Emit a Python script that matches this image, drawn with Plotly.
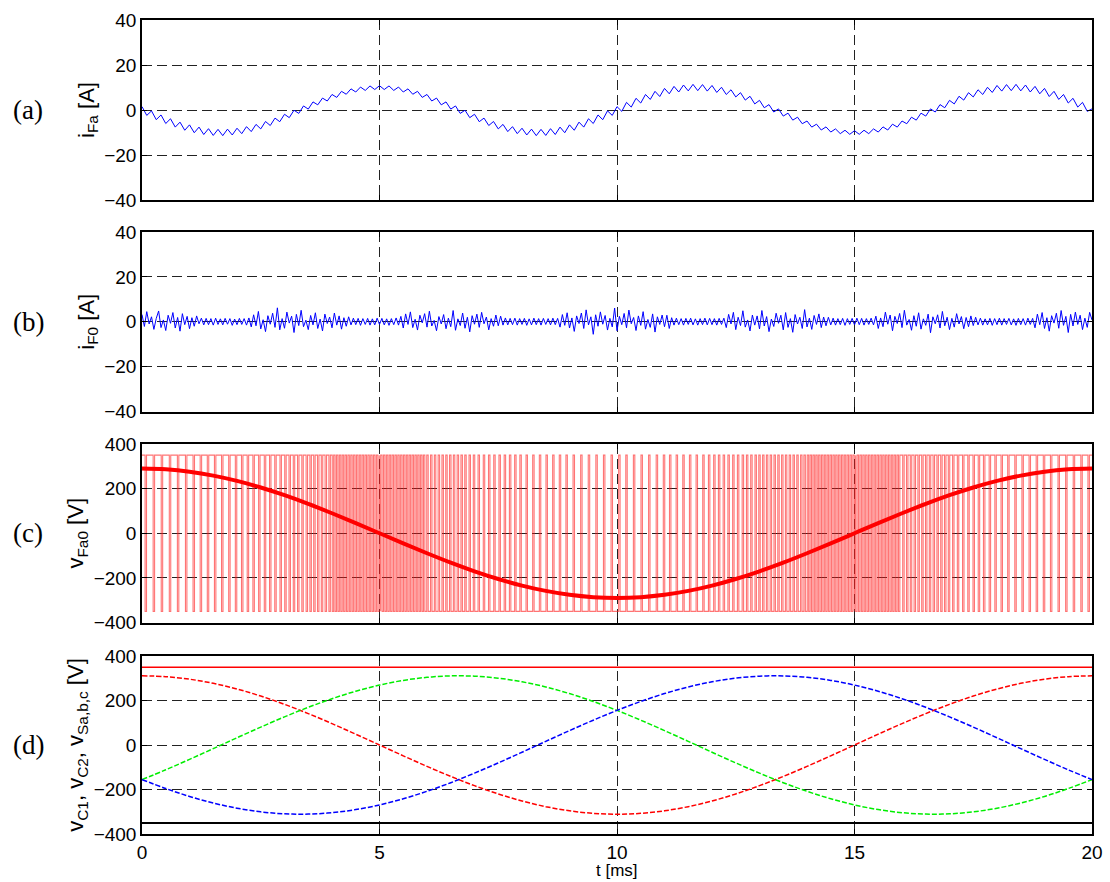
import numpy as np
import plotly.graph_objects as go
from plotly.subplots import make_subplots

# ---------------- data ----------------
# (a) filter phase-a current [A], sampled every 0.1 ms from 0 to 20 ms
iFa = [1.5, -2.4, -0.4, -4.3, -2.2, -6.0, -3.9, -7.6, -5.4, -9.0,
       -6.6, -10.1, -7.6, -10.9, -8.3, -11.3, -8.6, -11.4, -8.5, -11.1,
       -8.1, -10.5, -7.4, -9.6, -6.4, -8.4, -5.1, -6.9, -3.6, -5.2,
       -1.9, -3.4, -0.1, -1.5, 1.8, 0.4, 3.6, 2.3, 5.3, 4.0,
       6.9, 5.6, 8.3, 7.0, 9.4, 8.0, 10.2, 8.7, 10.7, 9.1,
       10.8, 9.1, 10.7, 8.7, 10.2, 8.0, 9.4, 7.0, 8.3, 5.6,
       6.9, 4.0, 5.3, 2.3, 3.6, 0.4, 1.8, -1.5, -0.1, -3.4,
       -1.9, -5.2, -3.6, -6.9, -5.1, -8.4, -6.4, -9.6, -7.4, -10.5,
       -8.1, -11.1, -8.5, -11.4, -8.6, -11.3, -8.3, -10.9, -7.6, -10.1,
       -6.6, -9.0, -5.4, -7.6, -3.9, -6.0, -2.2, -4.3, -0.4, -2.4,
       1.5, -0.6, 3.4, 1.3, 5.2, 3.1, 6.9, 4.7, 8.3, 6.0,
       9.6, 7.2, 10.5, 8.0, 11.1, 8.5, 11.4, 8.6, 11.3, 8.4,
       10.9, 7.8, 10.1, 6.9, 9.0, 5.8, 7.7, 4.4, 6.1, 2.7,
       4.3, 1.0, 2.4, -0.9, 0.5, -2.7, -1.4, -4.5, -3.2, -6.1,
       -4.9, -7.6, -6.3, -8.9, -7.5, -9.8, -8.4, -10.5, -9.0, -10.8,
       -9.2, -10.8, -9.0, -10.5, -8.4, -9.8, -7.5, -8.9, -6.3, -7.6,
       -4.9, -6.1, -3.2, -4.5, -1.4, -2.7, 0.5, -0.9, 2.4, 1.0,
       4.3, 2.7, 6.1, 4.4, 7.7, 5.8, 9.0, 6.9, 10.1, 7.8,
       10.9, 8.4, 11.3, 8.6, 11.4, 8.5, 11.1, 8.0, 10.5, 7.2,
       9.6, 6.0, 8.3, 4.7, 6.9, 3.1, 5.2, 1.3, 3.4, -0.6,
       0.5]

# (b) zero-sequence filter current [A], sampled every 0.05 ms
iF0 = [3.2, -2.1, 4.5, -1.0, 2.2, -3.4, 1.5, 4.8, -2.6, 0.8, -3.9, 2.9, -0.7, 4.1, -2.8, 1.9, -4.2, 3.6, -1.3, 2.4,
       -3.1, 1.8, -2.0, 2.6, -0.9, 1.6, -1.4, 1.5, -1.3, 1.4, -1.5, 1.6, -1.2, 1.3, -1.4, 1.5, -1.1, 1.4, -1.6, 1.2,
       -1.3, 1.5, -1.2, 1.4, -1.5, 1.7, -2.3, 3.1, -1.8, 4.6, -3.2, 0.9, -4.4, 2.7, -1.1, 3.8, -2.5, 6.2, -3.6, 1.4,
       -2.9, 4.3, -0.6, 2.5, -4.8, 3.3, -1.7, 5.1, -2.2, 0.7, -3.5, 2.8, -1.4, 4.0, -3.0, 1.2, -4.1, 3.4, -0.8, 2.1,
       -2.7, 3.9, -1.5, 2.6, -3.3, 1.8, -2.0, 2.2, -1.4, 1.6, -1.3, 1.5, -1.6, 1.4, -1.2, 1.5, -1.5, 1.3, -1.4, 1.6,
       -1.2, 1.5, -1.4, 1.3, -1.6, 1.4, -1.3, 1.7, -1.5, 2.4, -2.8, 3.5, -1.2, 4.4, -2.6, 1.1, -3.7, 2.9, -0.5, 3.6,
       -2.4, 4.7, -1.9, 0.6, -4.0, 2.3, -1.0, 3.2, -3.1, 1.6, -2.2, 5.0, -3.8, 1.3, -1.7, 3.9, -2.9, 2.0, -4.5, 2.7,
       -1.1, 3.4, -2.5, 4.2, -0.9, 2.1, -3.6, 1.4, -2.0, 3.0, -1.8, 2.5, -1.5, 1.7, -1.4, 1.5, -1.3, 1.6, -1.5, 1.4,
       -1.2, 1.5, -1.6, 1.3, -1.4, 1.6, -1.3, 1.4, -1.5, 1.5, -1.2, 1.4, -1.4, 1.6, -1.3, 1.5, -2.4, 3.2, -1.6, 4.0,
       -2.8, 1.7, -4.3, 2.6, -0.8, 3.9, -3.0, 5.3, -1.4, 2.2, -5.6, 3.1, -2.0, 4.4, -1.1, 2.8, -3.7, 1.5, -2.3, 6.1,
       -4.0, 2.4, -1.3, 3.7, -2.7, 5.2, -0.9, 1.9, -3.9, 2.6, -1.6, 4.5, -3.3, 1.0, -2.5, 3.5, -4.6, 2.2, -1.2, 3.0,
       -2.2, 2.9, -3.0, 1.8, -1.5, 1.6, -1.3, 1.4, -1.5, 1.5, -1.2, 1.6, -1.4, 1.3, -1.5, 1.4, -1.3, 1.6, -1.4, 1.5,
       -1.3, 1.4, -1.5, 1.5, -1.2, 1.6, -2.6, 3.3, -1.0, 4.2, -3.5, 2.0, -1.7, 4.9, -2.4, 0.8, -4.1, 3.0, -1.5, 2.6,
       -3.2, 5.0, -1.9, 2.3, -4.4, 1.2, -2.1, 3.8, -0.7, 2.9, -3.6, 4.1, -2.5, 1.4, -4.7, 3.2, -1.0, 2.0, -3.0, 5.4,
       -2.3, 1.6, -3.4, 2.8, -1.2, 3.5, -2.6, 2.1, -1.8, 2.0, -1.4, 1.6, -1.5, 1.4, -1.3, 1.5, -1.6, 1.4, -1.2, 1.5,
       -1.4, 1.6, -1.3, 1.5, -1.5, 1.4, -1.2, 1.6, -1.4, 2.5, -3.0, 1.7, -2.2, 4.3, -1.1, 3.0, -4.0, 2.4, -0.8, 3.7,
       -2.6, 5.1, -1.5, 1.0, -3.8, 2.7, -2.0, 4.0, -3.3, 1.3, -1.6, 3.4, -4.9, 2.2, -0.9, 3.1, -2.8, 4.6, -1.8, 2.0,
       -3.5, 1.5, -2.4, 3.6, -1.0, 2.3, -3.1, 1.9, -2.2, 2.6, -1.7, 2.0, -1.4, 1.6, -1.5, 1.3, -1.4, 1.5, -1.6, 1.4,
       -1.3, 1.6, -1.5, 1.4, -1.2, 1.5, -1.4, 1.3, -1.6, 1.5, -1.3, 1.4, -1.5, 1.6, -1.2, 1.5, -2.7, 3.4, -1.3, 4.1,
       -3.0, 1.8, -4.2, 2.7, -0.6, 3.8, -2.9, 5.0, -1.6, 2.4, -4.8, 3.3, -1.9, 4.3, -1.2, 2.9, -3.5, 1.6, -2.5, 4.2,
       0.8]

# (c) inverter leg voltage: reference (sampled every 0.5 ms) and PWM pulse instants [ms]
vFa0_ref = [290, 286.4, 275.8, 258.4, 234.6, 205.1, 170.5, 131.7, 89.6, 45.4,
            0, -45.4, -89.6, -131.7, -170.5, -205.1, -234.6, -258.4, -275.8, -286.4,
            -290, -286.4, -275.8, -258.4, -234.6, -205.1, -170.5, -131.7, -89.6, -45.4,
            0, 45.4, 89.6, 131.7, 170.5, 205.1, 234.6, 258.4, 275.8, 286.4, 290]
vdc_level = 350
pwm_pulses = [0.08, 0.25, 0.42, 0.59, 0.76, 0.93,
              1.09, 1.24, 1.39, 1.54, 1.69, 1.84, 1.98,
              2.11, 2.23, 2.35, 2.47, 2.59, 2.70, 2.81, 2.92,
              3.02, 3.11, 3.20, 3.29, 3.38, 3.47, 3.55, 3.63, 3.71, 3.79, 3.87, 3.95,
              4.02, 4.08, 4.14, 4.20, 4.26, 4.32, 4.38, 4.44, 4.50, 4.56, 4.62, 4.68, 4.74, 4.80, 4.86, 4.92, 4.98,
              5.04, 5.10, 5.16, 5.22, 5.28, 5.34, 5.40, 5.46, 5.52, 5.58, 5.64, 5.70, 5.76, 5.82, 5.88, 5.94,
              6.01, 6.09, 6.17, 6.25, 6.33, 6.41, 6.49, 6.57, 6.65, 6.73, 6.81, 6.90, 6.99,
              7.09, 7.20, 7.31, 7.42, 7.53, 7.64, 7.75, 7.86, 7.97,
              8.10, 8.24, 8.38, 8.52, 8.66, 8.80, 8.94,
              9.09, 9.25, 9.41, 9.57, 9.73, 9.89,
              10.05, 10.20, 10.36, 10.52, 10.68, 10.84, 10.99,
              11.12, 11.26, 11.40, 11.54, 11.68, 11.82, 11.94,
              12.05, 12.15, 12.25, 12.35, 12.45, 12.55, 12.65, 12.74, 12.83, 12.92,
              13.00, 13.08, 13.16, 13.24, 13.32, 13.40, 13.48, 13.56, 13.64, 13.72, 13.80, 13.88, 13.95,
              14.02, 14.08, 14.14, 14.20, 14.26, 14.32, 14.38, 14.44, 14.50, 14.56, 14.62, 14.68, 14.74, 14.80, 14.86, 14.92, 14.98,
              15.04, 15.10, 15.16, 15.22, 15.28, 15.34, 15.40, 15.46, 15.52, 15.58, 15.64, 15.70, 15.76, 15.82, 15.88, 15.94,
              16.03, 16.11, 16.19, 16.27, 16.35, 16.43, 16.51, 16.59, 16.67, 16.75, 16.83, 16.91, 16.99,
              17.08, 17.18, 17.29, 17.40, 17.51, 17.62, 17.73, 17.85, 17.97,
              18.10, 18.24, 18.39, 18.54, 18.69, 18.84, 18.99,
              19.14, 19.30, 19.46, 19.62, 19.78, 19.93]
pwm_pulse_width = 0.03  # ms

# (d) capacitor voltages and source voltages (sampled every 0.5 ms)
t_dc = [0, 20]
vC1 = [350, 350]
vC2 = [-350, -350]
vSa = [311, 307.2, 295.8, 277.1, 251.6, 219.9, 182.8, 141.2, 96.1, 48.6,
       0, -48.6, -96.1, -141.2, -182.8, -219.9, -251.6, -277.1, -295.8, -307.2,
       -311, -307.2, -295.8, -277.1, -251.6, -219.9, -182.8, -141.2, -96.1, -48.6,
       0, 48.6, 96.1, 141.2, 182.8, 219.9, 251.6, 277.1, 295.8, 307.2, 311]
vSb = [-155.5, -111.5, -64.7, -16.3, 32.5, 80.5, 126.5, 169.4, 208.1, 241.7,
       269.3, 290.4, 304.2, 310.6, 309.3, 300.4, 284.1, 260.8, 231.1, 195.7,
       155.5, 111.5, 64.7, 16.3, -32.5, -80.5, -126.5, -169.4, -208.1, -241.7,
       -269.3, -290.4, -304.2, -310.6, -309.3, -300.4, -284.1, -260.8, -231.1, -195.7, -155.5]
vSc = [-155.5, -195.7, -231.1, -260.8, -284.1, -300.4, -309.3, -310.6, -304.2, -290.4,
       -269.3, -241.7, -208.1, -169.4, -126.5, -80.5, -32.5, 16.3, 64.7, 111.5,
       155.5, 195.7, 231.1, 260.8, 284.1, 300.4, 309.3, 310.6, 304.2, 290.4,
       269.3, 241.7, 208.1, 169.4, 126.5, 80.5, 32.5, -16.3, -64.7, -111.5, -155.5]

x_ticks = [0, 5, 10, 15, 20]
y_ticks_i = [-40, -20, 0, 20, 40]
y_ticks_v = [-400, -200, 0, 200, 400]
panel_tags = ["(a)", "(b)", "(c)", "(d)"]
y_titles = ["i<sub>Fa</sub> [A]", "i<sub>F0</sub> [A]", "v<sub>Fa0</sub> [V]",
            "v<sub>C1</sub>, v<sub>C2</sub>, v<sub>Sa,b,c</sub> [V]"]
x_title = "t [ms]"

# ---------------- figure ----------------
t_a = np.linspace(0, 20, len(iFa))
t_b = np.linspace(0, 20, len(iF0))
t_ref = np.linspace(0, 20, len(vFa0_ref))
t_s = np.linspace(0, 20, len(vSa))

fig = make_subplots(rows=4, cols=1)

fig.add_trace(go.Scatter(x=t_a, y=iFa, mode="lines", line=dict(color="#0000ff", width=1)), row=1, col=1)
fig.add_trace(go.Scatter(x=t_b, y=iF0, mode="lines", line=dict(color="#0000ff", width=1)), row=2, col=1)

# PWM waveform built from the pulse instants
base = np.where(np.interp(pwm_pulses, t_ref, vFa0_ref) >= 0, vdc_level, -vdc_level)
xs, ys = [0.0], [float(base[0])]
for p, b in zip(pwm_pulses, base):
    b = float(b)
    if b != ys[-1]:
        xs.append(p - pwm_pulse_width)
        ys.append(b)
    xs += [p - pwm_pulse_width / 2, p - pwm_pulse_width / 2, p + pwm_pulse_width / 2, p + pwm_pulse_width / 2]
    ys += [b, -b, -b, b]
xs.append(20.0)
ys.append(ys[-1])
fig.add_trace(go.Scatter(x=xs, y=ys, mode="lines", line=dict(color="rgba(255,30,30,0.62)", width=1.1)), row=3, col=1)
fig.add_trace(go.Scatter(x=t_ref, y=vFa0_ref, mode="lines", line=dict(color="#ff0000", width=4, shape="spline")), row=3, col=1)

fig.add_trace(go.Scatter(x=t_dc, y=vC1, mode="lines", line=dict(color="#ff0000", width=1.5)), row=4, col=1)
fig.add_trace(go.Scatter(x=t_dc, y=vC2, mode="lines", line=dict(color="#000000", width=2)), row=4, col=1)
fig.add_trace(go.Scatter(x=t_s, y=vSa, mode="lines", line=dict(color="#ff0000", width=1.5, dash="5px,2px", shape="spline")), row=4, col=1)
fig.add_trace(go.Scatter(x=t_s, y=vSb, mode="lines", line=dict(color="#00ee00", width=1.5, dash="5px,2px", shape="spline")), row=4, col=1)
fig.add_trace(go.Scatter(x=t_s, y=vSc, mode="lines", line=dict(color="#0000ff", width=1.5, dash="5px,2px", shape="spline")), row=4, col=1)

# layout
H = 882
plot_top, plot_bottom = 20, 834
span = plot_bottom - plot_top
panels_px = [(20, 200), (232, 411.5), (444, 622.5), (656, 834)]
domains = [[(plot_bottom - b) / span, (plot_bottom - t) / span] for t, b in panels_px]

font_main = "Liberation Sans, Arial, sans-serif"
axis_common = dict(showline=True, linecolor="black", linewidth=1.5, mirror="ticks",
                   ticks="inside", ticklen=5, tickcolor="black", zeroline=False,
                   showgrid=True, gridcolor="#222222", gridwidth=1, griddash="10px,5px",
                   automargin=False,
                   tickfont=dict(family=font_main, size=19, color="black"))

for i in range(4):
    xa = "xaxis" if i == 0 else f"xaxis{i+1}"
    ya = "yaxis" if i == 0 else f"yaxis{i+1}"
    fig.layout[xa].update(range=[0, 20], tickvals=x_ticks, showticklabels=(i == 3), **axis_common)
    yt = y_ticks_i if i < 2 else y_ticks_v
    fig.layout[ya].update(range=[yt[0], yt[-1]], tickvals=yt, domain=domains[i],
                          title=dict(text=y_titles[i], standoff=4,
                                     font=dict(family=font_main, size=22, color="black")),
                          **axis_common)

# x-axis title placed just under the tick labels
fig.add_annotation(text=x_title, xref="paper", yref="paper", x=0.5, y=(plot_bottom - 870) / span,
                   xanchor="center", yanchor="middle", showarrow=False,
                   font=dict(family=font_main, size=17, color="black"))

for i, tag in enumerate(panel_tags):
    d = domains[i]
    fig.add_annotation(text=tag, xref="paper", yref="paper", x=(28 - 142) / 950, y=(d[0] + d[1]) / 2,
                       xanchor="center", yanchor="middle", showarrow=False,
                       font=dict(family="Liberation Serif, Times New Roman, serif", size=27, color="black"))

fig.update_layout(width=1110, height=H, margin=dict(l=142, r=18, t=20, b=48),
                  paper_bgcolor="white", plot_bgcolor="white", showlegend=False)

fig.write_html("out.html")
